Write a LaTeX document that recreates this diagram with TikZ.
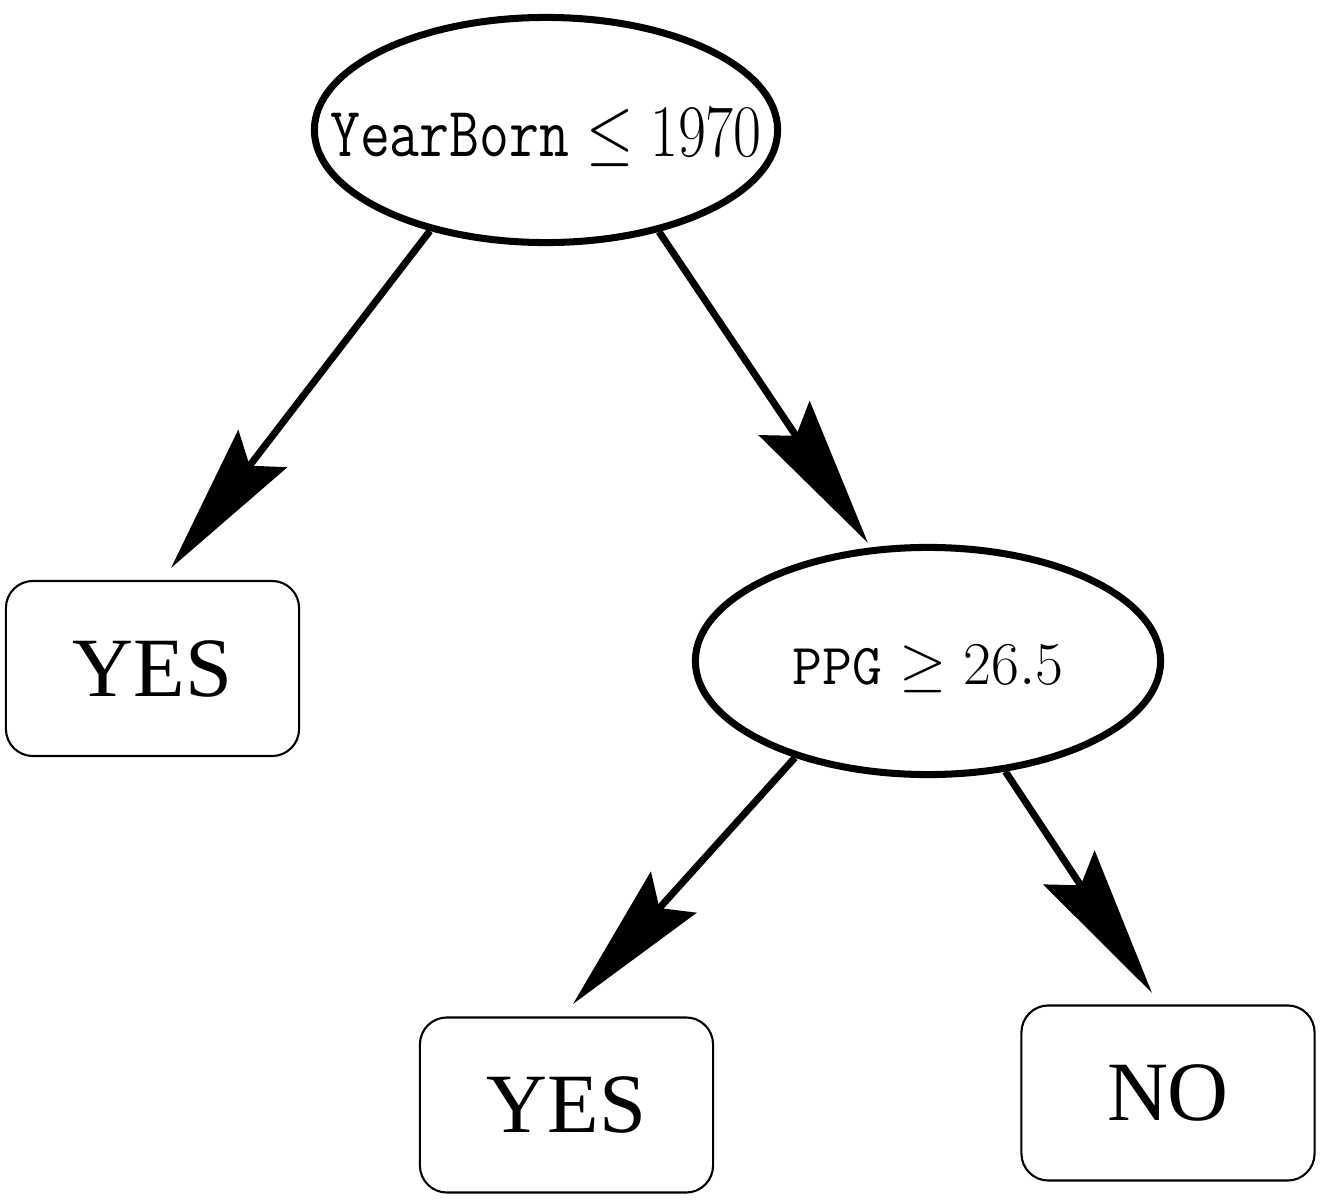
\documentclass[tikz,border=0pt]{standalone}
\usepackage{fontspec}
\newfontfamily\timesf{Liberation Serif}
\usetikzlibrary{shapes.geometric,arrows.meta}
\tikzset{
  testnode/.style={ellipse, draw, line width=2pt, inner sep=0pt},
  testtext/.style={font=\fontsize{16.5}{20}\selectfont, inner sep=0pt, yshift=-0.08cm},
  leafnode/.style={rectangle, rounded corners=0.27cm, draw, line width=0.6pt, inner sep=0pt,
    minimum width=2.93cm, minimum height=1.75cm, font=\timesf\fontsize{24}{28}\selectfont},
  edge/.style={line width=2pt, -{Stealth[length=1.5cm, width=0.61cm, inset=0.21cm]}}
}
\begin{document}
\begin{tikzpicture}[x=0.01cm, y=-0.01cm]
\useasboundingbox (0,0) rectangle (1329,1200);
\node[testnode, minimum width=4.63cm, minimum height=2.25cm,
  label={[testtext]center:\scalebox{1}[1.22]{$\mathtt{YearBorn}\leq 1970$}}] (root) at (546,130) {};
\node[testnode, minimum width=4.65cm, minimum height=2.27cm,
  label={[testtext]center:$\mathtt{PPG}\geq 26.5$}] (ppg) at (928,661) {};
\node[leafnode] (yes1) at (152.5,668.5) {YES};
\node[leafnode] (yes2) at (566.5,1105) {YES};
\node[leafnode] (no) at (1168,1093) {NO};
\coordinate (t1) at (171,568);
\coordinate (t2) at (868,543);
\coordinate (t3) at (573,1004);
\coordinate (t4) at (1152,993);
\draw[edge] (root.221) -- (t1);
\draw[edge] (root.318) -- (t2);
\draw[edge] (ppg.216.5) -- (t3);
\draw[edge] (ppg.305) -- (t4);
\end{tikzpicture}
\end{document}
